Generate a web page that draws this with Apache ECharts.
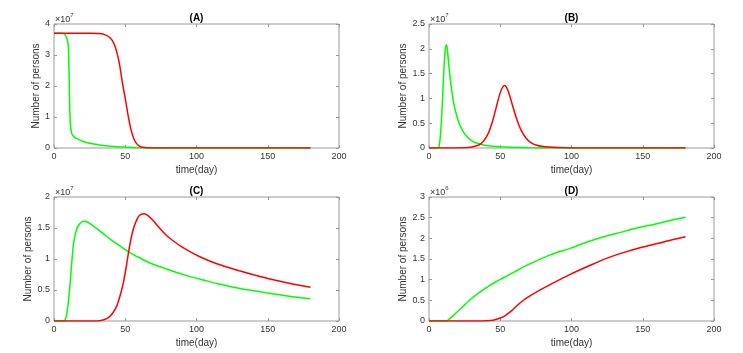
<!DOCTYPE html>
<html><head><meta charset="utf-8">
<script src="https://cdn.jsdelivr.net/npm/echarts@6/dist/echarts.min.js"></script>
<style>html,body{margin:0;padding:0;background:#fff}#c{width:743px;height:353px}</style>
</head><body><div id="c"></div>
<script>
// ---- data ----
const panelTitles = ['(A)', '(B)', '(C)', '(D)'];
const exponents = ['7', '7', '7', '6'];
const xAxisName = 'time(day)';
const yAxisName = 'Number of persons';
const xMin = 0, xMax = 200, xStep = 50;
const yMaxes = [4, 2.5, 2, 3];
const ySteps = [1, 0.5, 0.5, 0.5];

// Panel A (x10^7)
const aGreenT = [0, 5, 7, 7.7, 9, 10, 10.5, 11, 11.5, 12.4, 13, 14, 16, 20, 25, 32, 40, 50, 60, 70, 180];
const aGreenY = [3.7, 3.7, 3.69, 3.66, 3.55, 3.3, 2.6, 1.4, 0.75, 0.48, 0.42, 0.36, 0.3, 0.22, 0.15, 0.1, 0.06, 0.03, 0.01, 0, 0];
const aRedT = [0, 25, 32, 36, 39.5, 42, 44, 46, 48, 50, 52, 54, 56, 58, 60, 62, 65, 68, 180];
const aRedY = [3.7, 3.7, 3.69, 3.65, 3.55, 3.38, 3.1, 2.7, 2.1, 1.6, 1.05, 0.6, 0.3, 0.14, 0.06, 0.025, 0.005, 0, 0];

// Panel B (x10^7)
const bGreenT = [0, 6, 7, 8, 9, 10, 11, 12, 12.5, 13, 13.5, 14.5, 15.5, 16.5, 17.5, 19, 20.5, 22, 24, 26, 28, 31, 35, 40, 45, 50, 60, 70, 85, 180];
const bGreenY = [0, 0, 0.03, 0.25, 0.7, 1.3, 1.85, 2.08, 2.06, 1.95, 1.8, 1.5, 1.25, 1.05, 0.88, 0.7, 0.55, 0.44, 0.33, 0.25, 0.19, 0.13, 0.085, 0.05, 0.035, 0.025, 0.012, 0.005, 0, 0];
const bRedT = [0, 25, 30, 35, 38, 41, 43, 45, 47, 49, 51, 53, 55, 57, 59, 61, 63, 65, 68, 71, 75, 80, 90, 100, 180];
const bRedY = [0, 0.005, 0.02, 0.06, 0.13, 0.26, 0.4, 0.58, 0.8, 1.02, 1.19, 1.26, 1.19, 1.02, 0.82, 0.63, 0.47, 0.34, 0.2, 0.12, 0.06, 0.03, 0.008, 0, 0];

// Panel C (x10^7)
const cGreenT = [0, 7, 8, 9, 10, 11, 11.7, 12.5, 13.5, 15, 16, 18, 20.5, 23, 26, 30, 35, 40, 45, 50, 55, 60, 67, 75, 85, 95, 105, 115, 125, 137, 150, 165, 180];
const cGreenY = [0, 0, 0.03, 0.12, 0.29, 0.52, 0.72, 0.95, 1.21, 1.4, 1.49, 1.57, 1.61, 1.6, 1.56, 1.49, 1.4, 1.31, 1.23, 1.15, 1.08, 1.02, 0.94, 0.87, 0.79, 0.72, 0.66, 0.6, 0.55, 0.5, 0.45, 0.4, 0.36];
const cRedT = [0, 30, 35, 38, 41, 44, 46.5, 48.6, 50.5, 52.1, 54, 55.6, 57.5, 59.1, 61, 63.3, 66, 69.6, 74, 79, 85, 90, 96, 102, 110, 120, 130, 140, 150, 165, 180];
const cRedY = [0, 0, 0.02, 0.05, 0.12, 0.24, 0.42, 0.61, 0.85, 1.08, 1.32, 1.48, 1.6, 1.68, 1.72, 1.73, 1.7, 1.62, 1.5, 1.38, 1.27, 1.19, 1.11, 1.04, 0.96, 0.88, 0.81, 0.745, 0.685, 0.61, 0.545];

// Panel D (x10^6)
const dGreenT = [0, 12, 14, 17, 20, 25, 30, 35, 40, 43, 47, 52, 60, 67, 75, 85, 100, 110, 122, 135, 146, 161, 170, 180];
const dGreenY = [0, 0, 0.04, 0.13, 0.23, 0.39, 0.55, 0.68, 0.8, 0.87, 0.95, 1.04, 1.19, 1.32, 1.45, 1.6, 1.77, 1.9, 2.03, 2.15, 2.25, 2.36, 2.44, 2.51];
const dRedT = [0, 35, 40, 45, 48, 52, 55, 58, 62, 67, 72, 79, 85, 98, 114, 125, 137, 150, 161, 170, 180];
const dRedY = [0, 0, 0.005, 0.02, 0.05, 0.1, 0.17, 0.25, 0.38, 0.52, 0.63, 0.77, 0.88, 1.11, 1.36, 1.52, 1.66, 1.79, 1.88, 1.96, 2.04];

const panels = [
  [[aGreenT, aGreenY], [aRedT, aRedY]],
  [[bGreenT, bGreenY], [bRedT, bRedY]],
  [[cGreenT, cGreenY], [cRedT, cRedY]],
  [[dGreenT, dGreenY], [dRedT, dRedY]]
];
const seriesColors = ['#00ff00', '#ff0000'];

// ---- layout / style ----
const gridPos = [
  {left: 54, top: 24}, {left: 429, top: 24},
  {left: 54, top: 197}, {left: 429, top: 197}
];
const yNameGaps = [9, 13, 13, 13];
const FONT = '"Liberation Sans", Arial, Helvetica, sans-serif';
const TXT = '#333';
const BOX = '#999';

const grid = [], xAxis = [], yAxis = [], series = [];
const zip = (t, y) => t.map((v, i) => [v, y[i]]);
const noLine = {show: false, onZero: false};

gridPos.forEach((p, i) => {
  grid.push({left: p.left, top: p.top, width: 285, height: 124, containLabel: false, outerBoundsMode: 'none',
    show: true, borderColor: BOX, borderWidth: 1, backgroundColor: 'transparent'});
  // bottom x axis
  xAxis.push({type: 'value', gridIndex: i, position: 'bottom', min: xMin, max: xMax, interval: xStep,
    axisLine: noLine, splitLine: {show: false},
    axisTick: {inside: true, length: 3, lineStyle: {color: BOX}},
    axisLabel: {margin: 4, fontSize: 9, color: TXT, fontFamily: FONT, showMinLabel: true, showMaxLabel: true, hideOverlap: false},
    name: xAxisName, nameLocation: 'middle', nameGap: 17,
    nameTextStyle: {fontSize: 10, color: TXT, fontFamily: FONT}});
  // top mirror x axis (title)
  xAxis.push({type: 'value', gridIndex: i, position: 'top', min: xMin, max: xMax, interval: xStep,
    axisLine: noLine, splitLine: {show: false},
    axisTick: {inside: true, length: 3, lineStyle: {color: BOX}},
    axisLabel: {show: false},
    name: panelTitles[i], nameLocation: 'middle', nameGap: 1,
    nameTextStyle: {fontSize: 10, fontWeight: 'bold', color: '#000', fontFamily: FONT}});
  // left y axis
  yAxis.push({type: 'value', gridIndex: i, position: 'left', min: 0, max: yMaxes[i], interval: ySteps[i],
    axisLine: noLine, splitLine: {show: false},
    axisTick: {inside: true, length: 3, lineStyle: {color: BOX}},
    axisLabel: {margin: 4, fontSize: 9, color: TXT, fontFamily: FONT, showMinLabel: true, showMaxLabel: true, hideOverlap: false},
    name: yAxisName, nameLocation: 'middle', nameGap: yNameGaps[i],
    nameTextStyle: {fontSize: 10, color: TXT, fontFamily: FONT}});
  // right mirror y axis
  yAxis.push({type: 'value', gridIndex: i, position: 'right', min: 0, max: yMaxes[i], interval: ySteps[i],
    axisLine: noLine, splitLine: {show: false},
    axisTick: {inside: true, length: 3, lineStyle: {color: BOX}},
    axisLabel: {show: false}});
  // exponent label axis
  yAxis.push({type: 'value', gridIndex: i, position: 'left', min: 0, max: yMaxes[i], interval: ySteps[i],
    axisLine: noLine, axisTick: {show: false}, axisLabel: {show: false}, splitLine: {show: false},
    name: '{b|\u00d710}{s|' + exponents[i] + '}', nameLocation: 'end', nameGap: 0,
    nameTextStyle: {align: 'left', verticalAlign: 'bottom', padding: [0, 0, 0, 1],
      rich: {b: {fontSize: 9, color: TXT, fontFamily: FONT, lineHeight: 12, verticalAlign: 'bottom'},
             s: {fontSize: 6, color: TXT, fontFamily: FONT, lineHeight: 12, verticalAlign: 'top'}}}});
  panels[i].forEach((s, k) => {
    series.push({type: 'line', xAxisIndex: i * 2, yAxisIndex: i * 3, data: zip(s[0], s[1]),
      showSymbol: false, smooth: 0.25, animation: false,
      lineStyle: {color: seriesColors[k], width: 1.5}, itemStyle: {color: seriesColors[k]}, z: 2 + k});
  });
});

const chart = echarts.init(document.getElementById('c'), null, {renderer: 'canvas'});
chart.setOption({backgroundColor: '#fff', animation: false, grid, xAxis, yAxis, series});
</script>
</body></html>
